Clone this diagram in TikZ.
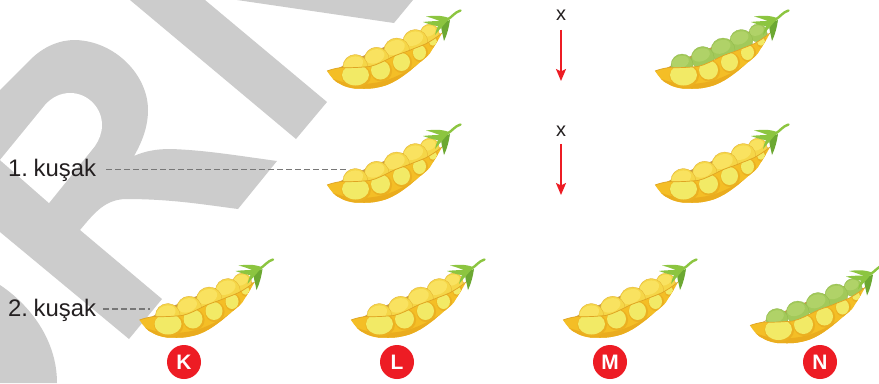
\documentclass[tikz,border=0pt]{standalone}
\usepackage{fontspec}
\setmainfont{Liberation Sans}
\usetikzlibrary{arrows.meta}
\definecolor{wm}{HTML}{CCCCCC}
\definecolor{inkc}{HTML}{231F20}
\definecolor{redc}{HTML}{ED1C24}
\definecolor{dashc}{HTML}{777777}
\definecolor{shellc}{HTML}{F4BE26}
\definecolor{shelld}{HTML}{EAAC1E}
\definecolor{bulgec}{HTML}{F2EA66}
\definecolor{bulgeh}{HTML}{EBB021}
\definecolor{rimc}{HTML}{DFA423}
\definecolor{leafc}{HTML}{8CC540}
\definecolor{leafd}{HTML}{6CA832}
\definecolor{backc}{HTML}{C79A45}
\newcommand{\podshell}{(0,0) .. controls (4,-6) and (8,-11) .. (12.7,-12.7)
    .. controls (20,-17) and (27,-18) .. (33,-17.7)
    .. controls (45,-18) and (50,-17) .. (59,-14.3)
    .. controls (70,-10) and (76,-5) .. (82.7,0)
    .. controls (92,8) and (100,14) .. (102.7,17.3)
    .. controls (108,26) and (112,32) .. (115,38)
    .. controls (109,33) and (104,30) .. (99,27.3)
    .. controls (93,24.5) and (88,23) .. (82.7,20.7)
    .. controls (76,18) and (70,16.5) .. (64,13.5)
    .. controls (57,10) and (50,6) .. (42.7,4.5)
    .. controls (32,3.5) and (22,3) .. (14,3.5)
    .. controls (8,2.5) and (4,1.5) .. (0,0) -- cycle}
\newcommand{\podshape}[4]{%
 \begin{scope}[y=1bp]
  % back wall
  \fill[backc] (12,3) -- (24,10) -- (100,42) -- (114,37) -- cycle;
  % peas
  \foreach \cx/\cy/\rr in {#4}{
    \fill[#1,draw=#3,line width=.3bp] (\cx,\cy) circle[radius=\rr];
    \fill[#2,rotate around={20:(\cx,\cy)}] (\cx-\rr*.05,\cy+\rr*.3) ellipse[x radius=\rr*.8,y radius=\rr*.55];
  }
  % shell
  \fill[shellc] \podshell;
  \begin{scope}
   \clip \podshell;
   % dark lower edge
   \fill[shelld] (4,-7) .. controls (8,-11) and (12,-12) .. (12.7,-14)
     -- (33,-19) -- (59,-16) -- (84,-2) -- (104,17)
     .. controls (95,9) and (80,-2) .. (60,-9)
     .. controls (40,-15) and (20,-14) .. (4,-7) -- cycle;
   % bulges
   \foreach \bx/\by/\ra/\rb in {28.5/-4/13.5/10.5,53.5/1/9.5/9.5,74.5/9/8.5/9,92.5/18.5/6.5/7.5,106/29.5/4/4.2}{
     \fill[bulgeh] (\bx+.8,\by-.8) ellipse[x radius=\ra+1.3,y radius=\rb+1.3];
     \fill[bulgec] (\bx,\by) ellipse[x radius=\ra,y radius=\rb];
   }
  \end{scope}
  % rim
  \draw[rimc,line width=.7bp] (0,0) .. controls (4,1.5) and (8,2.5) .. (14,3.5)
    .. controls (22,3) and (32,3.5) .. (42.7,4.5)
    .. controls (50,6) and (57,10) .. (64,13.5)
    .. controls (70,16.5) and (76,18) .. (82.7,20.7)
    .. controls (88,23) and (93,24.5) .. (99,27.3)
    .. controls (104,30) and (109,33) .. (115,38);
  % stem
  \draw[leafc,line width=2.4bp,line cap=round] (120,51) .. controls (125,54) and (128,59) .. (133.5,60.5);
  % calyx
  \fill[leafc] (122,50) .. controls (112,50) and (104,50) .. (96,49) .. controls (104,46) and (112,44) .. (120,44) -- cycle;
  \fill[leafc] (122,53) .. controls (114,56) and (106,55.5) .. (99,54.5) .. controls (106,53) and (112,50) .. (118,48) -- cycle;
  \fill[leafd] (123,51) .. controls (122,44) and (120,36) .. (117,30) .. controls (116,36) and (114,41) .. (114,47) -- cycle;
  \fill[leafc] (120,50) .. controls (116,45) and (112,41) .. (108,36) .. controls (109,41) and (111,46) .. (114,50) -- cycle;
 \end{scope}}
\definecolor{ypea}{HTML}{F5D648}
\definecolor{yhi}{HTML}{F9E260}
\definecolor{yedge}{HTML}{E2B030}
\definecolor{gpea}{HTML}{A2C95A}
\definecolor{ghi}{HTML}{B0D268}
\definecolor{gedge}{HTML}{93BA4C}
\tikzset{
  pics/yellowpod/.style={code={\podshape{ypea}{yhi}{yedge}{102.7/37.3/9.5,88.3/29/12.5,69.7/20/13,49.7/11.3/12.5,28.3/4/12.5}}},
  pics/greenpod/.style={code={\podshape{gpea}{ghi}{gedge}{103/38/9,86.3/30/11.5,68/21/12,47.7/13/11.5,27/6/11}}},
  wmark/.style={fill=wm,draw=none},
  labeltext/.style={font=\fontsize{24}{26}\selectfont,text=inkc,inner sep=0pt,anchor=west},
  crosslabel/.style={font=\fontsize{20}{22}\selectfont,text=inkc,inner sep=0pt},
  guide/.style={dashc,line width=1.2bp,dash pattern=on 6bp off 3bp},
  crossarrow/.style={redc,line width=2bp,-{Stealth[length=12bp,width=10bp,inset=2.5bp]}},
  badge/.style={circle,fill=redc,text=white,inner sep=0pt,minimum size=34bp,font=\fontsize{21}{23}\selectfont\bfseries}
}
\begin{document}
\begin{tikzpicture}[x=1bp,y=-1bp]
\useasboundingbox (0,0) rectangle (879,383);
\fill[white] (0,0) rectangle (879,383);
\clip (0,0) rectangle (879,383);
% watermark
\fill[wmark] (130,0) -- (296,139) -- (327,102) -- (205,0) -- cycle;
\fill[wmark] (237,0) -- (394,23) -- (413,0) -- cycle;
\fill[wmark] (0,90) -- (30,60) .. controls (44,46) and (60,40) .. (75,40)
  .. controls (115,41) and (148,75) .. (148,110)
  .. controls (148,127) and (142,142) .. (134,156)
  .. controls (145,151) and (157,149) .. (170,149)
  .. controls (205,150) and (240,156) .. (277,161)
  -- (238,209) .. controls (200,204) and (170,199) .. (125,199)
  .. controls (105,200) and (95,212) .. (80,230)
  -- (162,299) -- (129,339) -- (0,232) -- cycle;
\fill[white] (0,160) -- (45,105) .. controls (52,97) and (61,93) .. (70,93)
  .. controls (88,93) and (102,108) .. (102,125)
  .. controls (102,133) and (99,140) .. (95,146)
  -- (49,203) -- cycle;
\fill[wmark] (0,285) .. controls (30,305) and (57,340) .. (57,383) -- (0,383) -- cycle;
% pods
\coordinate (p1) at (327,71);
\coordinate (p2) at (655,71);
\coordinate (p3) at (327,185);
\coordinate (p4) at (655,185);
\coordinate (pk) at (139.5,320);
\coordinate (pl) at (351,320);
\coordinate (pm) at (563,320);
\coordinate (pn) at (750,325.5);
\pic at (p1) {yellowpod};
\pic at (p2) {greenpod};
\pic at (p3) {yellowpod};
\pic at (p4) {yellowpod};
\pic at (pk) {yellowpod};
\pic at (pl) {yellowpod};
\pic at (pm) {yellowpod};
\pic at (pn) {greenpod};
% labels
\node[labeltext] (gen1) at (8,170.5) {1.\hspace{5.5bp}kuşak};
\node[labeltext] (gen2) at (8,310) {2.\hspace{5.5bp}kuşak};
\coordinate (g1end) at (348,169.5);
\coordinate (g2end) at (150,309);
\draw[guide,shorten <=10bp] (gen1.east |- g1end) -- (g1end);
\draw[guide,shorten <=7bp] (gen2.east |- g2end) -- (g2end);
% crosses
\node[crosslabel] (x1) at (561,15.5) {x};
\node[crosslabel] (x2) at (561,131.5) {x};
\coordinate (a1) at (561,81);
\coordinate (a2) at (561,195);
\draw[crossarrow] (x1.south) ++(0,9) -- (a1);
\draw[crossarrow] (x2.south) ++(0,7) -- (a2);
% badges
\node[badge] (k) at (184,362) {K};
\node[badge] (l) at (397,362) {L};
\node[badge] (m) at (610,362) {M};
\node[badge] (n) at (820,362) {N};
\end{tikzpicture}
\end{document}
